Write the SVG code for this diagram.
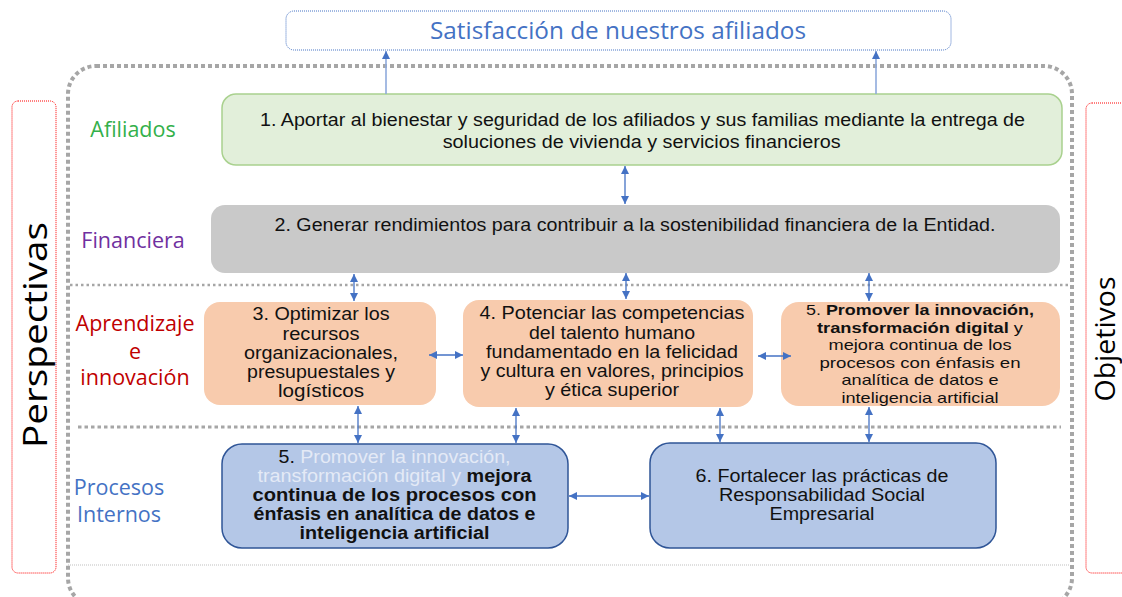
<svg xmlns="http://www.w3.org/2000/svg" width="1122" height="597" viewBox="0 0 1122 597">
<defs>
<style>
.lbl{font-family:"Open Sans","Noto Sans",sans-serif;}
.t{font-family:"Liberation Sans",Arial,sans-serif;fill:#111;text-anchor:middle;font-size:17.5px;}
.s{font-size:15px;}
.bold{font-weight:bold;}
.con{stroke:#4472C4;stroke-width:1.3;fill:none;marker-start:url(#ah);marker-end:url(#ah);}
.up{stroke:#8FAADC;stroke-width:1.6;fill:none;marker-end:url(#ah);}
.orange{fill:#F8CBAD;}
.blue{fill:#B4C7E7;stroke:#2F5597;stroke-width:1.5;}
.light{fill:#E4EAF6;}
</style>
<marker id="ah" viewBox="0 0 10 10" refX="10" refY="5" markerWidth="9" markerHeight="8" markerUnits="userSpaceOnUse" orient="auto-start-reverse">
<path d="M0,0 L10,5 L0,10 z" fill="#4472C4"/>
</marker>
</defs>
<rect width="1122" height="597" fill="#FFFFFF"/>

<g id="frame">
<rect x="68" y="66" width="1004" height="540" rx="28" fill="none" stroke="#A6A6A6" stroke-width="4" stroke-dasharray="4 3"/>
<line x1="70" y1="285" x2="1070" y2="285" stroke="#A6A6A6" stroke-width="2.5" stroke-dasharray="2.5 3"/>
<line x1="78" y1="427" x2="1061" y2="427" stroke="#A6A6A6" stroke-width="3" stroke-dasharray="3.5 3"/>
<line x1="68" y1="565" x2="1070" y2="565" stroke="#BFBFBF" stroke-width="1" stroke-dasharray="1 1"/>
</g>

<g id="perspectivas">
<rect x="12" y="101" width="44" height="472" rx="6" fill="none" stroke="#FF0000" stroke-width="1" stroke-dasharray="1 1"/>
<text class="lbl" transform="translate(47,335) rotate(-90)" text-anchor="middle" font-size="33" fill="#000" textLength="226" lengthAdjust="spacingAndGlyphs">Perspectivas</text>
</g>

<g id="objetivos">
<rect x="1086" y="103" width="60" height="470" rx="6" fill="none" stroke="#FF0000" stroke-width="1" stroke-dasharray="1 1"/>
<text class="lbl" transform="translate(1115,339) rotate(-90)" text-anchor="middle" font-size="28" fill="#000" textLength="125" lengthAdjust="spacingAndGlyphs">Objetivos</text>
</g>

<g id="satisfaccion">
<rect x="286" y="11" width="665" height="39" rx="8" fill="#FFFFFF" stroke="#4472C4" stroke-width="1" stroke-dasharray="1 1"/>
<text class="lbl" x="618" y="39" text-anchor="middle" font-size="24" fill="#4472C4" textLength="376" lengthAdjust="spacingAndGlyphs">Satisfacción de nuestros afiliados</text>
</g>

<g id="label-afiliados"><text class="lbl" x="133" y="137" text-anchor="middle" font-size="21.5" fill="#33B04A">Afiliados</text></g>
<g id="label-financiera"><text class="lbl" x="133" y="248" text-anchor="middle" font-size="21.5" fill="#7030A0">Financiera</text></g>
<g id="label-aprendizaje">
<text class="lbl" text-anchor="middle" font-size="21.5" fill="#C00000"><tspan x="135" y="331">Aprendizaje</tspan><tspan x="135" y="359">e</tspan><tspan x="135" y="385">innovación</tspan></text>
</g>
<g id="label-procesos">
<text class="lbl" text-anchor="middle" font-size="21.5" fill="#4472C4"><tspan x="119" y="495">Procesos</tspan><tspan x="119" y="522">Internos</tspan></text>
</g>

<g id="obj1">
<rect x="222" y="94" width="840" height="71" rx="14" fill="#E2EFDA" stroke="#A9D18E" stroke-width="1.5"/>
<text class="t" x="642.5" y="126" textLength="765" lengthAdjust="spacingAndGlyphs">1. Aportar al bienestar y seguridad de los afiliados y sus familias mediante la entrega de</text>
<text class="t" x="641.7" y="147.5" textLength="398" lengthAdjust="spacingAndGlyphs">soluciones de vivienda y servicios financieros</text>
</g>

<g id="obj2">
<rect x="211" y="205" width="849" height="68" rx="14" fill="#C9C9C9"/>
<text class="t" x="635" y="231" textLength="721" lengthAdjust="spacingAndGlyphs">2. Generar rendimientos para contribuir a la sostenibilidad financiera de la Entidad.</text>
</g>

<g id="obj3">
<rect x="204" y="302" width="232" height="103" rx="16" class="orange"/>
<text class="t" x="321" y="320" textLength="137" lengthAdjust="spacingAndGlyphs">3. Optimizar los</text>
<text class="t" x="321" y="339.5" textLength="77" lengthAdjust="spacingAndGlyphs">recursos</text>
<text class="t" x="321" y="359" textLength="154" lengthAdjust="spacingAndGlyphs">organizacionales,</text>
<text class="t" x="321" y="378" textLength="148" lengthAdjust="spacingAndGlyphs">presupuestales y</text>
<text class="t" x="321" y="396.5" textLength="86" lengthAdjust="spacingAndGlyphs">logísticos</text>
</g>

<g id="obj4">
<rect x="463" y="300" width="290" height="107" rx="16" class="orange"/>
<text class="t" x="612" y="319" textLength="265" lengthAdjust="spacingAndGlyphs">4. Potenciar las competencias</text>
<text class="t" x="612" y="339" textLength="166" lengthAdjust="spacingAndGlyphs">del talento humano</text>
<text class="t" x="612" y="358" textLength="252" lengthAdjust="spacingAndGlyphs">fundamentado en la felicidad</text>
<text class="t" x="612" y="377" textLength="263" lengthAdjust="spacingAndGlyphs">y cultura en valores, principios</text>
<text class="t" x="612" y="396" textLength="134" lengthAdjust="spacingAndGlyphs">y ética superior</text>
</g>

<g id="obj5-aprendizaje">
<rect x="781" y="302" width="279" height="104" rx="18" class="orange"/>
<text class="t s" x="920" y="315" textLength="228" lengthAdjust="spacingAndGlyphs">5. <tspan class="bold">Promover la innovación,</tspan></text>
<text class="t s" x="920" y="332.5" textLength="206" lengthAdjust="spacingAndGlyphs"><tspan class="bold">transformación digital</tspan> y</text>
<text class="t s" x="920" y="350" textLength="183" lengthAdjust="spacingAndGlyphs">mejora continua de los</text>
<text class="t s" x="920" y="367.5" textLength="201" lengthAdjust="spacingAndGlyphs">procesos con énfasis en</text>
<text class="t s" x="920" y="385" textLength="157" lengthAdjust="spacingAndGlyphs">analítica de datos e</text>
<text class="t s" x="920" y="402.5" textLength="157" lengthAdjust="spacingAndGlyphs">inteligencia artificial</text>
</g>

<g id="obj5-procesos">
<rect x="222" y="444" width="346" height="104" rx="20" class="blue"/>
<text class="t" x="394.5" y="463" textLength="232" lengthAdjust="spacingAndGlyphs">5. <tspan class="light">Promover la innovación,</tspan></text>
<text class="t" x="394.5" y="482" textLength="274" lengthAdjust="spacingAndGlyphs"><tspan class="light">transformación digital y</tspan> <tspan class="bold">mejora</tspan></text>
<text class="t bold" x="394.5" y="501" textLength="284" lengthAdjust="spacingAndGlyphs">continua de los procesos  con</text>
<text class="t bold" x="394.5" y="520" textLength="282" lengthAdjust="spacingAndGlyphs">énfasis en analítica de datos e</text>
<text class="t bold" x="394.5" y="539" textLength="190" lengthAdjust="spacingAndGlyphs">inteligencia artificial</text>
</g>

<g id="obj6">
<rect x="650" y="443" width="346" height="105" rx="20" class="blue"/>
<text class="t" x="822" y="482" textLength="253" lengthAdjust="spacingAndGlyphs">6. Fortalecer las prácticas de</text>
<text class="t" x="822" y="501" textLength="206" lengthAdjust="spacingAndGlyphs">Responsabilidad Social</text>
<text class="t" x="822" y="520" textLength="105" lengthAdjust="spacingAndGlyphs">Empresarial</text>
</g>

<g id="connectors">
<line class="up" x1="386" y1="94" x2="386" y2="51"/>
<line class="up" x1="876" y1="94" x2="876" y2="51"/>
<line class="con" x1="625" y1="166" x2="625" y2="204"/>
<line class="con" x1="354" y1="274" x2="354" y2="301"/>
<line class="con" x1="626" y1="273" x2="626" y2="299"/>
<line class="con" x1="869" y1="273" x2="869" y2="301"/>
<line class="con" x1="429" y1="355" x2="463" y2="355"/>
<line class="con" x1="758" y1="356" x2="791" y2="356"/>
<line class="con" x1="358" y1="406" x2="358" y2="443"/>
<line class="con" x1="516" y1="408" x2="516" y2="443"/>
<line class="con" x1="720" y1="408" x2="720" y2="442"/>
<line class="con" x1="869" y1="407" x2="869" y2="442"/>
<line class="con" x1="569" y1="496" x2="649" y2="496"/>
</g>
</svg>
